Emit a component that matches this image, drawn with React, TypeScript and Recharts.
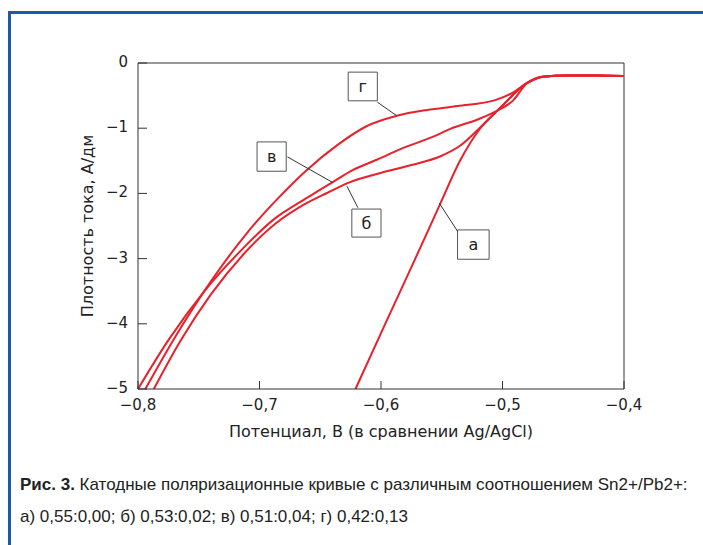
import { LineChart, Line, XAxis, YAxis, ReferenceLine, ReferenceArea } from 'recharts'

// potential, V (vs Ag/AgCl) and current density for each curve
const aX = [-0.621, -0.597, -0.573, -0.551, -0.535, -0.519, -0.502, -0.48, -0.467, -0.447, -0.422, -0.4]
const aY = [-5.0, -4.02, -3.05, -2.15, -1.5, -1.02, -0.69, -0.31, -0.21, -0.19, -0.19, -0.2]

const bX = [-0.787, -0.765, -0.74, -0.713, -0.686, -0.667, -0.644, -0.626, -0.601, -0.574, -0.551, -0.535, -0.519, -0.502, -0.48, -0.467, -0.447, -0.422, -0.4]
const bY = [-5.0, -4.26, -3.55, -2.93, -2.45, -2.21, -1.99, -1.83, -1.69, -1.56, -1.43, -1.27, -1.0, -0.69, -0.31, -0.21, -0.19, -0.19, -0.2]

const vX = [-0.8, -0.775, -0.745, -0.715, -0.689, -0.661, -0.64, -0.623, -0.603, -0.584, -0.557, -0.543, -0.521, -0.505, -0.491, -0.48, -0.467, -0.447, -0.422, -0.4]
const vY = [-5.0, -4.25, -3.49, -2.87, -2.41, -2.07, -1.83, -1.64, -1.48, -1.32, -1.13, -1.01, -0.87, -0.74, -0.57, -0.31, -0.21, -0.19, -0.19, -0.2]

const gX = [-0.794, -0.77, -0.74, -0.71, -0.686, -0.661, -0.636, -0.612, -0.587, -0.562, -0.537, -0.506, -0.491, -0.48, -0.467, -0.447, -0.422, -0.4]
const gY = [-5.0, -4.22, -3.35, -2.6, -2.1, -1.64, -1.26, -0.97, -0.81, -0.72, -0.66, -0.57, -0.45, -0.31, -0.21, -0.19, -0.19, -0.2]

const xTicks = [-0.8, -0.7, -0.6, -0.5, -0.4]
const yTicks = [-5, -4, -3, -2, -1, 0]

// label boxes [letter, x1, x2, y1, y2] and their leader lines
const boxes: [string, number, number, number, number][] = [
  ['г', -0.627, -0.603, -0.14, -0.58],
  ['в', -0.702, -0.678, -1.21, -1.66],
  ['б', -0.624, -0.6, -2.24, -2.67],
  ['а', -0.537, -0.511, -2.56, -3.01],
]
const leaders: [number, number, number, number][] = [
  [-0.603, -0.6, -0.587, -0.81],
  [-0.677, -1.44, -0.64, -1.83],
  [-0.619, -2.22, -0.628, -1.89],
  [-0.537, -2.58, -0.552, -2.15],
]

const RED = '#e8212b'
const FONT = 'DejaVu Sans, sans-serif'

const toPoints = (xs: number[], ys: number[]) => xs.map((x, i) => ({ x, y: ys[i] }))

const fmt = (v: number, digits: number) =>
  (v < 0 ? '\u2212' : '') + Math.abs(v).toFixed(digits).replace('.', ',')

const XTick = ({ x, y, payload }: any) => (
  <g>
    <line x1={x} y1={y} x2={x} y2={y - 8} stroke="#333" />
    <text x={x} y={y + 21} textAnchor="middle" fontSize={15} fontFamily={FONT} fill="#222">
      {fmt(payload.value, 1)}
    </text>
  </g>
)

const YTick = ({ x, y, payload }: any) => (
  <g>
    <line x1={x} y1={y} x2={x + 9} y2={y} stroke="#333" />
    <text x={x - 10} y={y + 4} textAnchor="end" fontSize={15} fontFamily={FONT} fill="#222">
      {fmt(payload.value, 0)}
    </text>
  </g>
)

const series = [
  { key: 'a', data: toPoints(aX, aY) },
  { key: 'b', data: toPoints(bX, bY) },
  { key: 'v', data: toPoints(vX, vY) },
  { key: 'g', data: toPoints(gX, gY) },
]

export default function App() {
  return (
    <div style={{ position: 'absolute', left: 0, top: 0, width: 703, height: 545, background: '#fff', overflow: 'hidden' }}>
      <div style={{ position: 'absolute', left: 8, top: 11, width: 720, height: 560, borderLeft: '3px solid #1b5ca8', borderTop: '3px solid #1b5ca8' }} />
      <div style={{ position: 'absolute', left: 0, top: 0 }}>
        <LineChart width={703} height={545} margin={{ top: 63, right: 79, left: 78, bottom: 106 }}>
          <XAxis
            type="number"
            dataKey="x"
            domain={[-0.8, -0.4]}
            ticks={xTicks}
            height={50}
            tickSize={0}
            tickMargin={0}
            tick={<XTick />}
            stroke="#333"
            label={{ value: 'Потенциал, В (в сравнении Ag/AgCl)', position: 'insideBottom', offset: 2, style: { fontSize: 16, fontFamily: FONT, fill: '#222' } }}
          />
          <YAxis
            type="number"
            domain={[-5, 0]}
            ticks={yTicks}
            width={60}
            tickSize={0}
            tickMargin={0}
            tick={<YTick />}
            stroke="#333"
            label={{ value: 'Плотность тока, А/дм', angle: -90, position: 'insideLeft', offset: 9, style: { textAnchor: 'middle', fontSize: 16, fontFamily: FONT, fill: '#222' } }}
          />
          <ReferenceLine y={0} stroke="#333" />
          <ReferenceLine x={-0.4} stroke="#333" />
          {series.map(s => (
            <Line
              key={s.key}
              data={s.data}
              dataKey="y"
              type="monotone"
              stroke={RED}
              strokeWidth={2}
              dot={false}
              isAnimationActive={false}
            />
          ))}
          {leaders.map((l, i) => (
            <ReferenceLine key={'l' + i} segment={[{ x: l[0], y: l[1] }, { x: l[2], y: l[3] }]} stroke="#333" />
          ))}
          {boxes.map(b => (
            <ReferenceArea
              key={b[0]}
              x1={b[1]}
              x2={b[2]}
              y1={b[3]}
              y2={b[4]}
              fill="#fff"
              fillOpacity={1}
              stroke="#555"
              label={{ value: b[0], position: 'center', style: { fontSize: 16, fontFamily: FONT, fill: '#222' } }}
            />
          ))}
        </LineChart>
      </div>
      <div style={{ position: 'absolute', left: 20, top: 469, fontFamily: 'Liberation Sans Narrow, Liberation Sans, sans-serif', fontSize: 17, lineHeight: '32px', color: '#222' }}>
        <b>Рис. 3.</b> Катодные поляризационные кривые с различным соотношением Sn2+/Pb2+:
        <br />
        а) 0,55:0,00; б) 0,53:0,02; в) 0,51:0,04; г) 0,42:0,13
      </div>
    </div>
  )
}
